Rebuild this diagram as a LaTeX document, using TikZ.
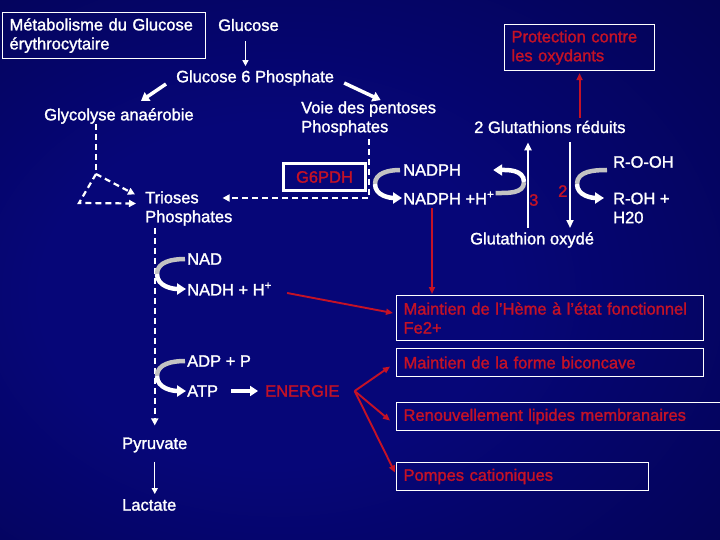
\documentclass[tikz,border=0pt]{standalone}
\usepackage{fontspec}
\setmainfont{Liberation Sans}[UprightFeatures={FakeBold=1.5}]
\usepackage{tikz}
\usetikzlibrary{arrows.meta, positioning, calc}
\definecolor{slred}{RGB}{196, 18, 38}
\definecolor{slgray}{RGB}{195, 195, 195}
\definecolor{bgin}{RGB}{6, 6, 120}
\definecolor{bgout}{RGB}{0, 0, 36}
\pgfdeclareradialshading{slide}{\pgfpoint{-8bp}{-3bp}}{color(0bp)=(bgin); color(16bp)=(bgin); color(72bp)=(bgout)}

\begin{document}
\begin{tikzpicture}[x=1pt, y=-1pt,
    lbl/.style={text=white, font=\fontsize{16.5}{19}\selectfont, inner sep=0pt, anchor=west, align=left},
    rlbl/.style={lbl, text=slred},
    wbox/.style={draw=white, line width=1.1pt, font=\fontsize{16.5}{19}\selectfont, inner xsep=7pt, inner ysep=0pt, anchor=north west, align=left},
    rbox/.style={wbox, text=slred},
    thinarrow/.style={white, line width=1.4pt, -{Triangle[length=6pt,width=6pt]}},
    midarrow/.style={white, line width=2.5pt, -{Triangle[length=8pt,width=7pt]}},
    fatarrow/.style={white, line width=3.5pt, -{Triangle[length=8pt,width=10pt]}},
    redarrow/.style={slred, line width=1.9pt, -{Triangle[length=7pt,width=6pt]}},
    dashline/.style={white, line width=2.2pt, dash pattern=on 6pt off 4pt, -{Triangle[length=7pt,width=7pt]}},
    arcin/.style={slgray, line width=4.5pt},
    arcout/.style={white, line width=4.5pt, -{Triangle[length=9pt,width=11pt]}}]
    \useasboundingbox (0,0) rectangle (720,540);
    \clip (0,0) rectangle (720,540);
    \shade[shading=slide] (0,0) rectangle (720,540);

    \node[wbox, text=white, text width=189, minimum height=46] (title) at (2,12) {Métabolisme du Glucose\\érythrocytaire};
    \node[lbl] (glc) at (218,25) {Glucose};
    \node[rbox, text width=136, minimum height=46] (prot) at (504,24) {Protection contre\\les oxydants};
    \node[lbl] (g6p) at (176,78) {Glucose 6 Phosphate};
    \node[lbl] (glyco) at (44,116) {Glycolyse anaérobie};
    \node[lbl] (pent) at (301,118.5) {Voie des pentoses\\Phosphates};
    \node[lbl] (glured) at (474,127) {2 Glutathions réduits};
    \node[draw=white, line width=3pt, minimum width=82, minimum height=27, inner sep=0pt, text=slred, font=\fontsize{16.5}{19}\selectfont] (g6pdh) at (324.5,177) {G6PDH};
    \node[lbl] (nadph) at (403,170) {NADPH};
    \node[lbl, below=28pt of nadph.west, anchor=west] (nadphh) {NADPH +H\textsuperscript{+}};
    \node[lbl] (rooh) at (613,162) {R-O-OH};
    \node[lbl] (roh) at (613,208) {R-OH +\\H20};
    \node[rlbl] (n3) at (529,200) {3};
    \node[rlbl] (n2) at (558,191) {2};
    \node[lbl] (glutox) at (470,240) {Glutathion oxydé};
    \node[lbl] (trioses) at (145,208.5) {Trioses\\Phosphates};
    \node[lbl] (nad) at (187,259) {NAD};
    \node[lbl, below=30pt of nad.west, anchor=west] (nadh) {NADH + H\textsuperscript{+}};
    \node[lbl] (adp) at (187,361) {ADP + P};
    \node[lbl, below=30pt of adp.west, anchor=west] (atp) {ATP};
    \node[rlbl] (energie) at (265,391) {ENERGIE};
    \node[lbl] (pyr) at (122,445) {Pyruvate};
    \node[lbl, below=60pt of pyr.west, anchor=west] (lac) {Lactate};
    \node[rbox, text width=293, minimum height=45] (heme) at (396,295) {Maintien de l’Hème à l’état fonctionnel\\Fe2+};
    \node[rbox, text width=293, minimum height=28] (bicon) at (396,348) {Maintien de la forme biconcave};
    \node[rbox, text width=370, minimum height=28] (renouv) at (396,402) {Renouvellement lipides membranaires};
    \node[rbox, text width=238, minimum height=28] (pompes) at (396,462) {Pompes cationiques};

    \coordinate (fork) at (96,174);
    \coordinate (corner) at (79,203);
    \coordinate (g3x) at (528,0);
    \coordinate (g2x) at (570,0);
    \coordinate (hemex) at (432,0);
    \coordinate (split) at ($(energie.east)+(15,0)$);

    \draw[thinarrow, shorten <=10pt, shorten >=4pt] ([xshift=-3pt]glc.south) -- ([xshift=-3pt]glc.south |- g6p.north);
    \draw[fatarrow] ([xshift=-10pt,yshift=-6pt]g6p.west) -- ([xshift=22pt,yshift=7pt]glyco.north);
    \draw[fatarrow] ([xshift=10pt,yshift=-5pt]g6p.east) -- ([xshift=12pt,yshift=1pt]pent.north);

    \draw[dashline, -] (glyco.south -| fork) -- (fork);
    \draw[dashline] (fork) -- ([xshift=-10pt,yshift=14pt]trioses.west);
    \draw[dashline] (fork) -- (corner) -- ([xshift=-9pt,yshift=5pt]trioses.west);
    \draw[dashline] ([yshift=-3pt]pent.south) |- ([xshift=-10pt,yshift=10.5pt]trioses.east);
    \draw[dashline, shorten <=2pt, shorten >=12pt] (trioses.south -| pyr.north) -- (pyr.north);
    \draw[thinarrow, shorten <=9pt, shorten >=5pt] (pyr.south -| pyr.north) -- (lac.north -| pyr.north);

    \coordinate (c1) at ($(nadph.west)!0.5!(nadphh.west)+(-28,0)$);
    \draw[arcin] ([xshift=-3pt]nadph.west) to[out=180,in=90] (c1);
    \draw[arcout] (c1) to[out=-90,in=180] ([xshift=-1pt]nadphh.west);
    \coordinate (c2) at ($(g3x |- c1)+(-4,-2)$);
    \draw[arcin] ([xshift=1pt,yshift=5pt]nadphh.east) to[out=0,in=-90] (c2);
    \draw[arcout] (c2) to[out=90,in=0] ([xshift=32pt]nadph.east);
    \coordinate (c3) at (577,184);
    \draw[arcin] ([xshift=-6pt,yshift=-8pt]rooh.west) to[out=180,in=90] (c3);
    \draw[arcout] (c3) to[out=-90,in=180] ([xshift=-9pt,yshift=10pt]roh.west);
    \coordinate (c4) at ($(nad.west)!0.5!(nadh.west)+(-30,0)$);
    \draw[arcin] ([xshift=-2pt]nad.west) to[out=180,in=90] (c4);
    \draw[arcout] (c4) to[out=-90,in=180] ([xshift=-1pt]nadh.west);
    \coordinate (c5) at ($(adp.west)!0.5!(atp.west)+(-30,0)$);
    \draw[arcin] ([xshift=-2pt]adp.west) to[out=180,in=90] (c5);
    \draw[arcout] (c5) to[out=-90,in=180] ([xshift=-1pt]atp.west);

    \draw[midarrow, shorten <=4pt, shorten >=9pt] (glutox.north -| g3x) -- (glured.south -| g3x);
    \draw[midarrow, shorten <=9pt, shorten >=4pt] (glured.south -| g2x) -- (glutox.north -| g2x);
    \draw[redarrow, shorten <=3pt, shorten >=2pt] (glured.north -| prot.south) -- (prot.south);
    \draw[redarrow, shorten <=3pt, shorten >=1pt] (nadphh.south -| hemex) -- (heme.north -| hemex);
    \draw[redarrow] ([xshift=15pt,yshift=-4pt]nadh.east) -- ([xshift=-3pt,yshift=5pt]heme.west);

    \draw[fatarrow, shorten <=13pt, shorten >=7pt] (atp.east) -- (energie.west);
    \draw[redarrow] (split) -- ([xshift=-6pt,yshift=-4pt]bicon.west);
    \draw[redarrow] (split) -- ([xshift=-6pt,yshift=-4pt]renouv.west);
    \draw[redarrow] (split) -- ([xshift=-1pt,yshift=4pt]pompes.west);
\end{tikzpicture}
\end{document}
